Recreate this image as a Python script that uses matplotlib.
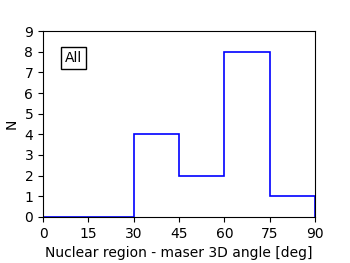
import matplotlib
matplotlib.use("Agg")
import matplotlib.pyplot as plt

bin_edges = [0, 15, 30, 45, 60, 75, 90]
counts = [0, 0, 4, 2, 8, 1]
x_ticks = [0, 15, 30, 45, 60, 75, 90]
y_ticks = list(range(0, 10))

fig = plt.figure(figsize=(3.5, 2.63), dpi=100)
ax = fig.add_axes([0.123, 0.175, 0.777, 0.707])
ax.hist(bin_edges[:-1], bins=bin_edges, weights=counts, histtype='step', color='blue', linewidth=1.2)
ax.set_xlim(0, 90)
ax.set_ylim(0, 9)
ax.set_xticks(x_ticks)
ax.set_yticks(y_ticks)
ax.tick_params(labelsize=10)
ax.set_xlabel("Nuclear region - maser 3D angle [deg]", fontsize=10)
ax.set_ylabel("N", fontsize=10)
ax.text(0.08, 0.855, "All", transform=ax.transAxes, fontsize=10, va='center', ha='left',
        bbox=dict(boxstyle='square,pad=0.3', facecolor='white', edgecolor='black'))
fig.savefig("out.png", dpi=100)
